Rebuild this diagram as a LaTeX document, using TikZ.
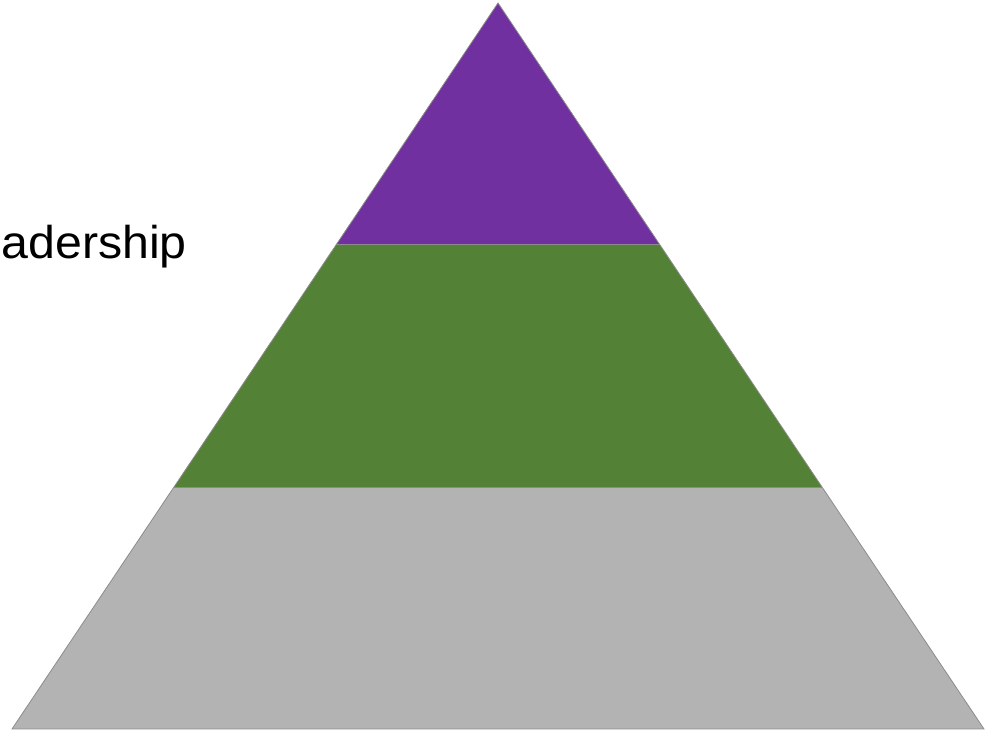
\documentclass[tikz,border=0pt]{standalone}
\usepackage{fontspec}
\setmainfont{Liberation Sans}
\definecolor{toppurple}{HTML}{7030A0}
\definecolor{midgreen}{HTML}{538135}
\definecolor{basegray}{HTML}{B3B3B3}
\definecolor{edgegray}{HTML}{8C8C8C}
\tikzset{layer/.style={draw=edgegray, line width=0.8pt, line join=miter}}
\begin{document}
\begin{tikzpicture}[x=1pt,y=1pt]
\useasboundingbox (0,0) rectangle (1001,733);
\clip (0,0) rectangle (1001,733);
% layers (y measured upward)
\coordinate (apex) at (498,730);
\coordinate (l1) at (336.7,489);
\coordinate (r1) at (659.3,489);
\coordinate (l2) at (174,246);
\coordinate (r2) at (822,246);
\coordinate (bl) at (12,4);
\coordinate (br) at (984,4);
\fill[basegray] (l2) -- (r2) -- (br) -- (bl) -- cycle;
\fill[midgreen] (l1) -- (r1) -- (r2) -- (l2) -- cycle;
\fill[toppurple] (apex) -- (r1) -- (l1) -- cycle;
\draw[layer] (apex) -- (br) -- (bl) -- cycle;
\draw[layer] (l1) -- (r1);
\draw[layer] (l2) -- (r2);
\node[anchor=base east, inner sep=0pt, xscale=1.05, font=\fontsize{46}{54}\selectfont] (lead) at (187,474) {Leadership};
\end{tikzpicture}
\end{document}
